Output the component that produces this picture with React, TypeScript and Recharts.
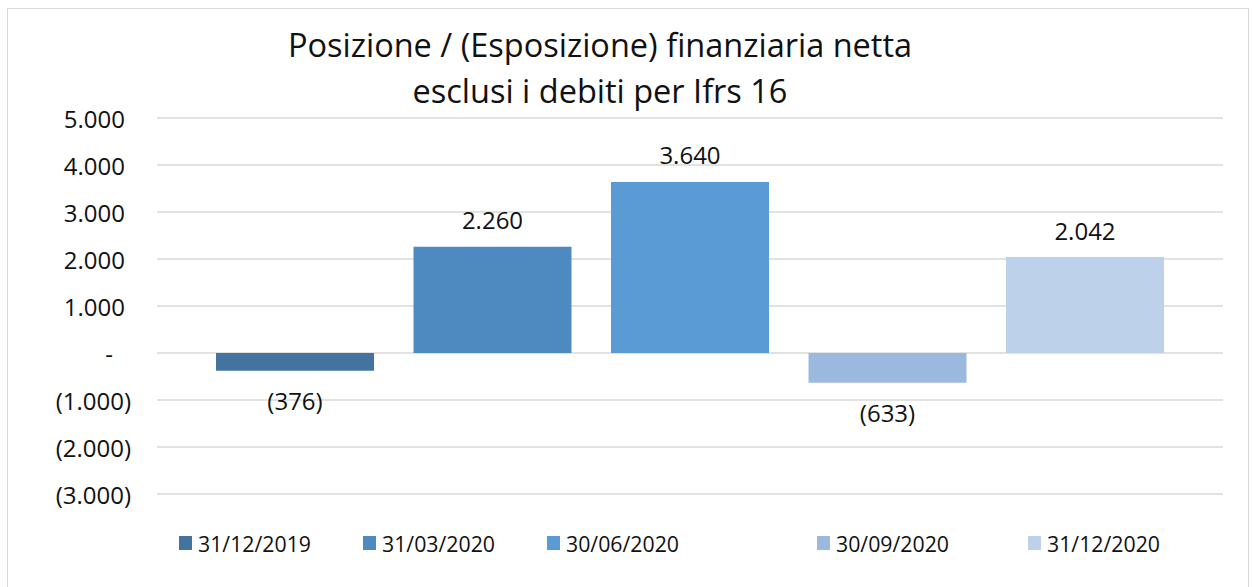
import React from 'react';
import { BarChart, Bar, XAxis, YAxis, CartesianGrid, LabelList } from 'recharts';

const seriesNames = ['31/12/2019', '31/03/2020', '30/06/2020', '30/09/2020', '31/12/2020'];
const seriesValues = [-376, 2260, 3640, -633, 2042];
const seriesColors = ['#44739F', '#4E8ABF', '#5B9BD5', '#9BB9DF', '#BDD1EA'];
const yTicks = [-3000, -2000, -1000, 0, 1000, 2000, 3000, 4000, 5000];
const titleLines = ['Posizione / (Esposizione) finanziaria netta', 'esclusi i debiti per Ifrs 16'];

const FONT = '"Open Sans", sans-serif';
const TEXT = '#111';

const fmtThousands = (v: number) => Math.abs(v).toString().replace(/\B(?=(\d{3})+(?!\d))/g, '.');
const fmtValue = (v: number) => (v < 0 ? `(${fmtThousands(v)})` : v === 0 ? '-' : fmtThousands(v));

const row: Record<string, number | string> = { name: '' };
seriesNames.forEach((_, i) => {
  row[`s${i}`] = seriesValues[i];
});
const data = [row];

const YTick = (props: any) => {
  const { x, y, payload } = props;
  const v = payload.value as number;
  let tx = x - 18;
  if (v > 0) tx = x - 24;
  if (v === 0) tx = x - 36;
  return (
    <text x={tx} y={y} textAnchor="end" dominantBaseline="central" fontSize={24} fontFamily={FONT} fill={TEXT}>
      {fmtValue(v)}
    </text>
  );
};

const ValueLabel = (props: any) => {
  const { x, y, width, height, value } = props;
  const v = value as number;
  const cx = x + width / 2;
  const top = Math.min(y, y + height);
  const bottom = Math.max(y, y + height);
  const ty = v >= 0 ? top - 27 : bottom + 30;
  return (
    <text x={cx} y={ty} textAnchor="middle" dominantBaseline="central" fontSize={24} fontFamily={FONT} fill={TEXT}>
      {fmtValue(v)}
    </text>
  );
};

const legendLefts = [179, 363, 547, 817, 1028];

export default function App() {
  return (
    <div style={{ position: 'absolute', left: 0, top: 0, width: 1252, height: 587, background: '#fff', overflow: 'hidden', fontFamily: FONT }}>
      <div style={{ position: 'absolute', left: 7, top: 8, width: 1242, height: 600, border: '1px solid #D9D9D9', boxSizing: 'border-box' }} />
      {titleLines.map((t, i) => (
        <div
          key={i}
          style={{
            position: 'absolute',
            left: 0,
            width: 1200,
            top: 23 + i * 46,
            textAlign: 'center',
            fontSize: 32.5,
            lineHeight: '44px',
            color: TEXT,
            whiteSpace: 'nowrap',
          }}
        >
          {t}
        </div>
      ))}
      <div style={{ position: 'absolute', left: 0, top: 0 }}>
        <BarChart
          width={1252}
          height={587}
          data={data}
          margin={{ top: 118, right: 29, bottom: 93, left: 0 }}
          barCategoryGap={59}
          barGap={39.5}
        >
          <CartesianGrid vertical={false} stroke="#D9D9D9" strokeWidth={1.3} />
          <XAxis dataKey="name" hide />
          <YAxis
            width={157}
            domain={[-3000, 5000]}
            ticks={yTicks}
            interval={0}
            axisLine={false}
            tickLine={false}
            tick={<YTick />}
          />
          {seriesNames.map((n, i) => (
            <Bar key={n} dataKey={`s${i}`} name={n} fill={seriesColors[i]} barSize={158} isAnimationActive={false}>
              <LabelList dataKey={`s${i}`} content={<ValueLabel />} />
            </Bar>
          ))}
        </BarChart>
      </div>
      <div style={{ position: 'absolute', top: 528, left: 0, width: 1252, height: 30 }}>
        {seriesNames.map((n, i) => (
          <div key={n} style={{ position: 'absolute', left: legendLefts[i], top: 0, display: 'flex', alignItems: 'center', height: 30 }}>
            <div style={{ width: 13, height: 14, background: seriesColors[i], marginRight: 6 }} />
            <span style={{ fontSize: 21.3, color: TEXT, whiteSpace: 'nowrap' }}>{n}</span>
          </div>
        ))}
      </div>
    </div>
  );
}
